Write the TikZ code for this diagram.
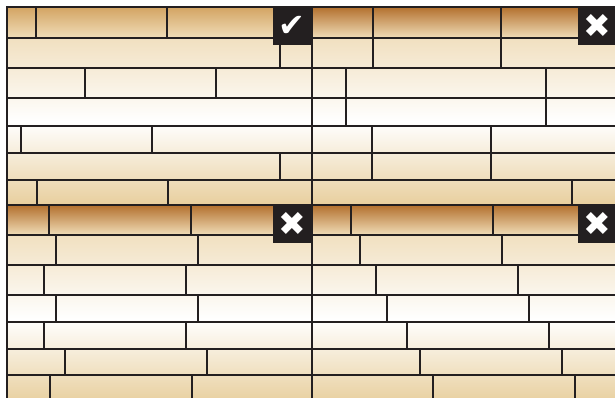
\documentclass[tikz,border=0pt]{standalone}
\usepackage{fontspec}
\newfontfamily\symfont{DejaVu Sans}

\definecolor{woodline}{HTML}{231F20}
\definecolor{woodlight}{HTML}{F1E0C0}
\definecolor{woodtan}{HTML}{E8CF9E}
\definecolor{woodbrown}{HTML}{B3702E}
\definecolor{woodhoney}{HTML}{D3A463}
\definecolor{woodpale}{HTML}{F0DDB8}

\begin{document}
\begin{tikzpicture}[
    x=1pt,
    y=-1pt,
    boardfill/.style={
        top color=woodlight,
        bottom color=woodtan,
        middle color=white
    },
    toprow/.style={
        top color=woodbrown,
        bottom color=woodpale
    },
    toprowlight/.style={
        top color=woodhoney,
        bottom color=woodpale
    },
    seam/.style={draw=woodline, line width=2.2pt},
    joint/.style={draw=woodline, line width=2pt},
    frame/.style={draw=woodline, line width=2.6pt},
    badge/.style={
        fill=woodline,
        minimum width=39pt,
        minimum height=38pt,
        inner sep=0pt,
        text=white
    },
    okmark/.style={badge, font=\symfont\fontsize{32}{32}\selectfont},
    badmark/.style={badge, font=\symfont\fontsize{33}{33}\selectfont}
]

\useasboundingbox (0,0) rectangle (615,398);
\clip (0,0) rectangle (615,398);

% Top left panel: staggered joints
\fill[boardfill] (7,38) rectangle (312,205);
\fill[toprowlight] (7,7) rectangle (312,38);
\draw[seam] (7,38) -- (312,38) (7,68) -- (312,68) (7,98) -- (312,98)
    (7,126) -- (312,126) (7,153) -- (312,153) (7,180) -- (312,180);
\draw[joint]
    (35.7,7) -- (35.7,38) (166.7,7) -- (166.7,38)
    (280,38) -- (280,68)
    (84.7,68) -- (84.7,98) (215.7,68) -- (215.7,98)
    (20.7,126) -- (20.7,153) (152.3,126) -- (152.3,153)
    (280,153) -- (280,180)
    (37.3,180) -- (37.3,205) (168.3,180) -- (168.3,205);
\draw[frame] (7,7) rectangle (312,205);

% Top right panel: joints line up in pairs
\fill[boardfill] (312,38) rectangle (617,205);
\fill[toprow] (312,7) rectangle (617,38);
\draw[seam] (312,38) -- (617,38) (312,68) -- (617,68) (312,98) -- (617,98)
    (312,126) -- (617,126) (312,153) -- (617,153) (312,180) -- (617,180);
\draw[joint]
    (372.7,7) -- (372.7,68) (501.3,7) -- (501.3,68)
    (345.7,68) -- (345.7,126) (546,68) -- (546,126)
    (372,126) -- (372,180) (490.7,126) -- (490.7,180)
    (572.3,180) -- (572.3,205);
\draw[frame] (312,7) rectangle (617,205);

% Bottom left panel: repeating pattern
\fill[boardfill] (7,235) rectangle (312,403);
\fill[toprow] (7,205) rectangle (312,235);
\draw[seam] (7,235) -- (312,235) (7,265) -- (312,265) (7,295) -- (312,295)
    (7,322) -- (312,322) (7,349) -- (312,349) (7,375) -- (312,375);
\draw[joint]
    (49,205) -- (49,235) (190.7,205) -- (190.7,235)
    (56.3,235) -- (56.3,265) (198.3,235) -- (198.3,265)
    (44.3,265) -- (44.3,295) (186.3,265) -- (186.3,295)
    (56.3,295) -- (56.3,322) (198.3,295) -- (198.3,322)
    (44.3,322) -- (44.3,349) (186.3,322) -- (186.3,349)
    (65.3,349) -- (65.3,375) (207,349) -- (207,375)
    (50,375) -- (50,403) (192,375) -- (192,403);
\draw[frame] (7,205) rectangle (312,403);

% Bottom right panel: stair-step pattern
\fill[boardfill] (312,235) rectangle (617,403);
\fill[toprow] (312,205) rectangle (617,235);
\draw[seam] (312,235) -- (617,235) (312,265) -- (617,265) (312,295) -- (617,295)
    (312,322) -- (617,322) (312,349) -- (617,349) (312,375) -- (617,375);
\draw[joint]
    (351,205) -- (351,235) (493.3,205) -- (493.3,235)
    (360,235) -- (360,265) (502,235) -- (502,265)
    (375.7,265) -- (375.7,295) (518,265) -- (518,295)
    (387.3,295) -- (387.3,322) (529.3,295) -- (529.3,322)
    (407.3,322) -- (407.3,349) (549.3,322) -- (549.3,349)
    (420,349) -- (420,375) (562.3,349) -- (562.3,375)
    (432.7,375) -- (432.7,403) (575,375) -- (575,403);
\draw[frame] (312,205) rectangle (617,403);

% Badges
\node[okmark, anchor=north west] (okbadge) at (272.5,7) {✔};
\node[badmark, anchor=north west] (badtr) at (577.5,7) {✖};
\node[badmark, anchor=north west] (badbl) at (273,205) {✖};
\node[badmark, anchor=north west] (badbr) at (577.5,205) {✖};

\end{tikzpicture}
\end{document}
